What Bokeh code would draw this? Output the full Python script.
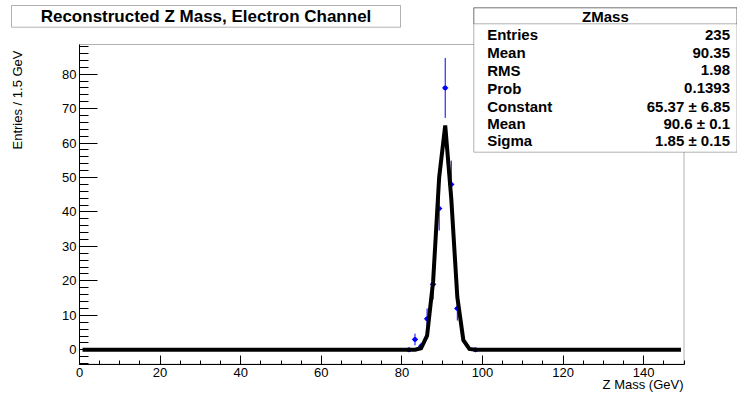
import math
from bokeh.plotting import figure
from bokeh.models import (Range1d, SingleIntervalTicker, Label, PolyAnnotation)
from bokeh.embed import file_html
from bokeh.resources import INLINE

# ---------------- data ----------------
bin_centers = [81.75, 83.25, 84.75, 86.25, 87.75, 89.25, 90.75, 92.25, 93.75, 98.25]
counts = [0, 3, 1, 9, 19, 41, 76, 48, 12, 0]
count_errors = [0, 1.7, 1.0, 3.0, 4.4, 6.4, 8.7, 6.9, 3.5, 0]
half_bin = 0.75

fit_x = [0.75, 81.75, 83.25, 84.75, 86.25, 87.75, 89.25, 90.75, 92.25, 93.75,
         95.25, 96.75, 98.25, 149.25]
fit_y = [0.0, 0.0, 0.02, 0.44, 4.1, 19.9, 50.1, 65.1, 43.9, 15.3, 2.8, 0.26, 0.0, 0.0]

stats_title = "ZMass"
stats_names = ["Entries", "Mean", "RMS", "Prob", "Constant", "Mean", "Sigma"]
stats_values = ["235", "90.35", "1.98", "0.1393", "65.37 \u00b1 6.85", "90.6 \u00b1 0.1", "1.85 \u00b1 0.15"]

title_text = "Reconstructed Z Mass, Electron Channel"
x_title = "Z Mass (GeV)"
y_title = "Entries / 1.5 GeV"

X_MIN, X_MAX = 0, 150
Y_MIN, Y_MAX = -4.18, 88.6

# ---------------- layout (pixels inside the canvas) ----------------
W, H = 737, 397
FL, FR, FT, FB = 79, 683.5, 44, 363.7   # inner plot frame edges
kx = (X_MAX - X_MIN) / (FR - FL)
ky = (Y_MAX - Y_MIN) / (FB - FT)
XS, XE = X_MIN - FL * kx, X_MAX + (W - FR) * kx
YS, YE = Y_MIN - (H - FB) * ky, Y_MAX + FT * ky

FONT = "Liberation Sans"


def px(fx):
    """canvas pixel x -> data x"""
    return XS + fx * kx


def py(fy):
    """canvas pixel y (from top) -> data y"""
    return YE - fy * ky


p = figure(width=W, height=H, output_backend="svg", toolbar_location=None,
           x_range=Range1d(XS, XE), y_range=Range1d(YS, YE),
           min_border_left=0, min_border_right=0, min_border_top=0,
           min_border_bottom=0)
p.title.visible = False
p.background_fill_color = "white"
p.border_fill_color = "white"
p.outline_line_color = None
p.xgrid.visible = False
p.ygrid.visible = False

xa = p.xaxis[0]
xa.fixed_location = Y_MIN
xa.bounds = (X_MIN, X_MAX)
xa.ticker = SingleIntervalTicker(interval=20, num_minor_ticks=4)
xa.major_tick_in = 9
xa.major_tick_out = 0
xa.minor_tick_in = 4
xa.minor_tick_out = 0
xa.major_label_standoff = 4
xa.major_label_text_font = FONT
xa.major_label_text_font_size = "13px"
xa.major_label_text_color = "black"
xa.axis_line_color = "black"
xa.major_tick_line_color = "black"
xa.minor_tick_line_color = "black"

ya = p.yaxis[0]
ya.fixed_location = X_MIN
ya.bounds = (Y_MIN, Y_MAX)
ya.ticker = SingleIntervalTicker(interval=10, num_minor_ticks=5)
ya.major_tick_in = 18
ya.major_tick_out = 0
ya.minor_tick_in = 9
ya.minor_tick_out = 0
ya.major_label_standoff = 3
ya.major_label_text_font = FONT
ya.major_label_text_font_size = "13px"
ya.major_label_text_color = "black"
ya.axis_line_color = "black"
ya.major_tick_line_color = "black"
ya.minor_tick_line_color = "black"

# inner frame (top and right edges of the ROOT frame)
p.add_layout(PolyAnnotation(xs=[X_MIN, X_MAX, X_MAX, X_MIN],
                            ys=[Y_MIN, Y_MIN, Y_MAX, Y_MAX],
                            fill_color=None, line_color="black", line_width=1))

# ---------------- histogram points with error bars ----------------
lo = [c - e for c, e in zip(counts, count_errors)]
hi = [c + e for c, e in zip(counts, count_errors)]
xl = [b - half_bin for b in bin_centers]
xr = [b + half_bin for b in bin_centers]
p.segment(x0=bin_centers, y0=lo, x1=bin_centers, y1=hi, line_color="#0000ff", line_width=1)
p.segment(x0=xl, y0=counts, x1=xr, y1=counts, line_color="#0000ff", line_width=1)
p.scatter(bin_centers, counts, size=4, marker="circle", fill_color="#0000ff", line_color="#0000ff")

# ---------------- fit curve ----------------
p.line(fit_x, fit_y, line_color="black", line_width=4, line_join="miter")

# ---------------- title box ----------------
tb_l, tb_r, tb_t, tb_b = 11, 400, 5, 26.7
p.add_layout(PolyAnnotation(xs=[px(tb_l), px(tb_r), px(tb_r), px(tb_l)],
                            ys=[py(tb_t), py(tb_t), py(tb_b), py(tb_b)],
                            fill_color="white", fill_alpha=1.0,
                            line_color="black", line_width=1))
p.add_layout(Label(x=px((tb_l + tb_r) / 2), y=py(16.3), text=title_text,
                   text_font=FONT, text_font_size="17px", text_font_style="bold",
                   text_align="center", text_baseline="middle", text_color="black"))

# ---------------- stats box ----------------
sb_l, sb_r, sb_t, sb_b, sb_h = 473.3, 736.5, 7.3, 151.7, 23.3
p.add_layout(PolyAnnotation(xs=[px(sb_l), px(sb_r), px(sb_r), px(sb_l)],
                            ys=[py(sb_t), py(sb_t), py(sb_b), py(sb_b)],
                            fill_color="white", fill_alpha=1.0,
                            line_color="black", line_width=1))
p.add_layout(PolyAnnotation(xs=[px(sb_l), px(sb_r), px(sb_r), px(sb_l)],
                            ys=[py(sb_t), py(sb_t), py(sb_h), py(sb_h)],
                            fill_color=None, line_color="black", line_width=1))
p.add_layout(Label(x=px((sb_l + sb_r) / 2), y=py(15.5), text=stats_title,
                   text_font=FONT, text_font_size="15px", text_font_style="bold",
                   text_align="center", text_baseline="middle", text_color="black"))
row_y = [34.0, 52.0, 69.8, 87.6, 105.6, 123.0, 139.5]
for name, val, ry in zip(stats_names, stats_values, row_y):
    p.add_layout(Label(x=px(486.7), y=py(ry), text=name,
                       text_font=FONT, text_font_size="15px", text_font_style="bold",
                       text_align="left", text_baseline="middle", text_color="black"))
    p.add_layout(Label(x=px(729.5), y=py(ry), text=val,
                       text_font=FONT, text_font_size="15px", text_font_style="bold",
                       text_align="right", text_baseline="middle", text_color="black"))

# ---------------- axis titles ----------------
p.add_layout(Label(x=px(683), y=py(384), text=x_title,
                   text_font=FONT, text_font_size="13px",
                   text_align="right", text_baseline="middle", text_color="black"))
p.add_layout(Label(x=px(17), y=py(50), text=y_title, angle=math.pi / 2,
                   text_font=FONT, text_font_size="13px",
                   text_align="right", text_baseline="middle", text_color="black"))

open("out.html", "w").write(file_html(p, INLINE))
